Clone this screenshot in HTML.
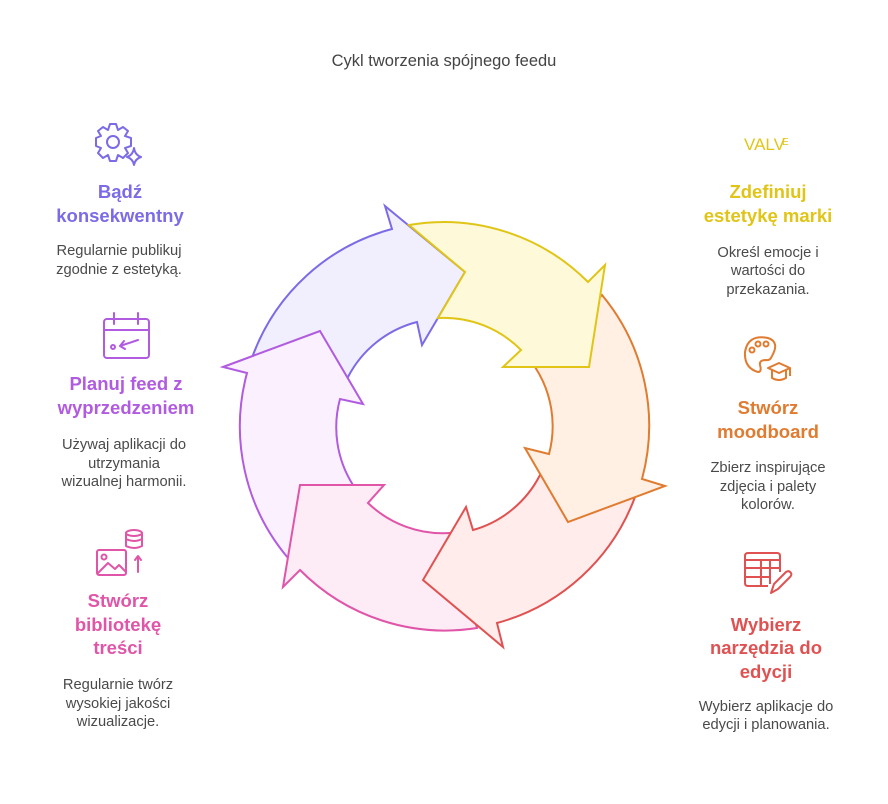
<!DOCTYPE html>
<html><head><meta charset="utf-8"><style>
html,body{margin:0;padding:0;background:#fff;}
svg{display:block;font-family:"Liberation Sans",sans-serif;}
.h{font-weight:bold;font-size:18.5px;text-anchor:middle;}
.b{font-size:14.7px;fill:#4a4a4a;text-anchor:middle;}
</style></head><body>
<svg width="888" height="804" viewBox="0 0 888 804" xmlns="http://www.w3.org/2000/svg">
<rect width="888" height="804" fill="#fff"/>
<text x="444" y="66" font-size="16.5" fill="#444" text-anchor="middle">Cykl tworzenia spójnego feedu</text>

<g stroke-width="2" stroke-linejoin="miter">
<path d="M253,355 A204,204 0 0 1 392,229 L385,206 L465,272 L422,345 L417,322 A108,108 0 0 0 348,377 Z" fill="#f1effd" stroke="#7b6be6"/>
<path d="M288,558 A204,204 0 0 1 247,373 L223,367 L320,331 L363,404 L340,399 A108,108 0 0 0 353,485 Z" fill="#fbf0fd" stroke="#b05be0"/>
<path d="M477,628 A204,204 0 0 1 300,570 L283,587 L300,485 L384,485 L368,503 A108,108 0 0 0 450,533 Z" fill="#fdebf5" stroke="#e055a8"/>
<path d="M635,497 A204,204 0 0 1 497,623 L503,647 L423,580 L466,507 L473,530 A108,108 0 0 0 540,475 Z" fill="#ffeceb" stroke="#e05252"/>
<path d="M602,295 A204,204 0 0 1 642,479 L665,486 L568,522 L525,448 L549,454 A108,108 0 0 0 535,367 Z" fill="#fff0e3" stroke="#e07b30"/>
<path d="M409,225 A204,204 0 0 1 588,282 L605,265 L589,367 L503,367 L521,350 A108,108 0 0 0 438,318 L465,272 Z" fill="#fef9d9" stroke="#e0c517"/>
</g>

<g fill="none" stroke="#7b6be6" stroke-width="2" stroke-linejoin="round">
<path d="M110,124 L116,124 L118,130 L123,127 L128,131 L125,136 L131,138 L131,146 L125,148 L128,153 L123,158 L118,155 L116,161 L110,161 L108,155 L103,158 L98,153 L101,148 L96,146 L96,138 L101,136 L98,131 L103,127 L108,130 Z"/>
<circle cx="113" cy="142" r="6"/>
<path d="M134,148 Q135,155 141,157 Q135,159 134,165 Q133,159 127,157 Q133,155 134,148 Z"/>
</g>
<text class="h" x="120" y="198" fill="#7b6be6">Bądź</text>
<text class="h" x="120" y="222" fill="#7b6be6">konsekwentny</text>
<text class="b" x="119" y="255">Regularnie publikuj</text>
<text class="b" x="119" y="274">zgodnie z estetyką.</text>

<g fill="none" stroke="#b05be0" stroke-width="2" stroke-linecap="round">
<rect x="104" y="319" width="45" height="39" rx="3"/>
<line x1="104" y1="330" x2="149" y2="330"/>
<line x1="114" y1="313" x2="114" y2="324"/>
<line x1="138" y1="313" x2="138" y2="324"/>
<circle cx="113" cy="347" r="2"/>
<path d="M120,346 L138,340 M120,346 L124,341 M120,346 L125,349"/>
</g>
<text class="h" x="126" y="390" fill="#b05be0">Planuj feed z</text>
<text class="h" x="126" y="414" fill="#b05be0">wyprzedzeniem</text>
<text class="b" x="124" y="449">Używaj aplikacji do</text>
<text class="b" x="124" y="468">utrzymania</text>
<text class="b" x="124" y="486">wizualnej harmonii.</text>

<g fill="none" stroke="#e055a8" stroke-width="2" stroke-linecap="round" stroke-linejoin="round">
<rect x="97" y="550" width="29" height="25" rx="2"/>
<circle cx="104" cy="557" r="2.5"/>
<path d="M98,573 L108,563 L115,569 L119,565 L126,572"/>
<ellipse cx="134" cy="533" rx="8" ry="3"/>
<path d="M126,533 L126,546 Q134,550 142,546 L142,533 M126,539 Q134,543 142,539"/>
<path d="M138,572 L138,557 M135,560 L138,556 L141,560"/>
</g>
<text class="h" x="118" y="607" fill="#e055a8">Stwórz</text>
<text class="h" x="118" y="631" fill="#e055a8">bibliotekę</text>
<text class="h" x="118" y="654" fill="#e055a8">treści</text>
<text class="b" x="118" y="689">Regularnie twórz</text>
<text class="b" x="118" y="708">wysokiej jakości</text>
<text class="b" x="118" y="726">wizualizacje.</text>

<text x="744" y="150" font-size="17" fill="#e0c517">VALV</text><text x="782" y="145" font-size="10" fill="#e0c517">E</text>
<text class="h" x="768" y="198" fill="#e0c517">Zdefiniuj</text>
<text class="h" x="768" y="222" fill="#e0c517">estetykę marki</text>
<text class="b" x="768" y="257">Określ emocje i</text>
<text class="b" x="768" y="275">wartości do</text>
<text class="b" x="768" y="294">przekazania.</text>

<g fill="none" stroke="#e07b30" stroke-width="2" stroke-linejoin="round">
<path d="M772,356 Q780,342 768,338 Q748,334 745,352 Q744,368 758,372 Q762,372 760,365 Q759,360 766,360 Q770,361 772,356"/>
<circle cx="752" cy="350" r="2.5"/><circle cx="758" cy="344" r="2.5"/><circle cx="766" cy="344" r="2.5"/>
<path d="M768,368 L779,363 L790,368 L779,373 Z M772,370 L772,378 Q779,382 786,378 L786,370 M790,368 L790,376"/>
</g>
<text class="h" x="768" y="414" fill="#e07b30">Stwórz</text>
<text class="h" x="768" y="438" fill="#e07b30">moodboard</text>
<text class="b" x="768" y="472">Zbierz inspirujące</text>
<text class="b" x="768" y="491">zdjęcia i palety</text>
<text class="b" x="768" y="509">kolorów.</text>

<g fill="none" stroke="#e05252" stroke-width="2" stroke-linejoin="round">
<path d="M780,572 L780,556 Q780,553 777,553 L748,553 Q745,553 745,556 L745,583 Q745,586 748,586 L768,586"/>
<line x1="745" y1="560" x2="780" y2="560"/><line x1="745" y1="568" x2="780" y2="568"/><line x1="745" y1="577" x2="770" y2="577"/>
<line x1="761" y1="560" x2="761" y2="586"/><line x1="770" y1="560" x2="770" y2="584"/>
<path d="M771,593 L774,584 L786,572 Q789,570 791,573 Q792,575 790,577 L778,589 Z"/>
</g>
<text class="h" x="766" y="631" fill="#e05252">Wybierz</text>
<text class="h" x="766" y="654" fill="#e05252">narzędzia do</text>
<text class="h" x="766" y="678" fill="#e05252">edycji</text>
<text class="b" x="766" y="711">Wybierz aplikacje do</text>
<text class="b" x="766" y="729">edycji i planowania.</text>
</svg>
</body></html>
